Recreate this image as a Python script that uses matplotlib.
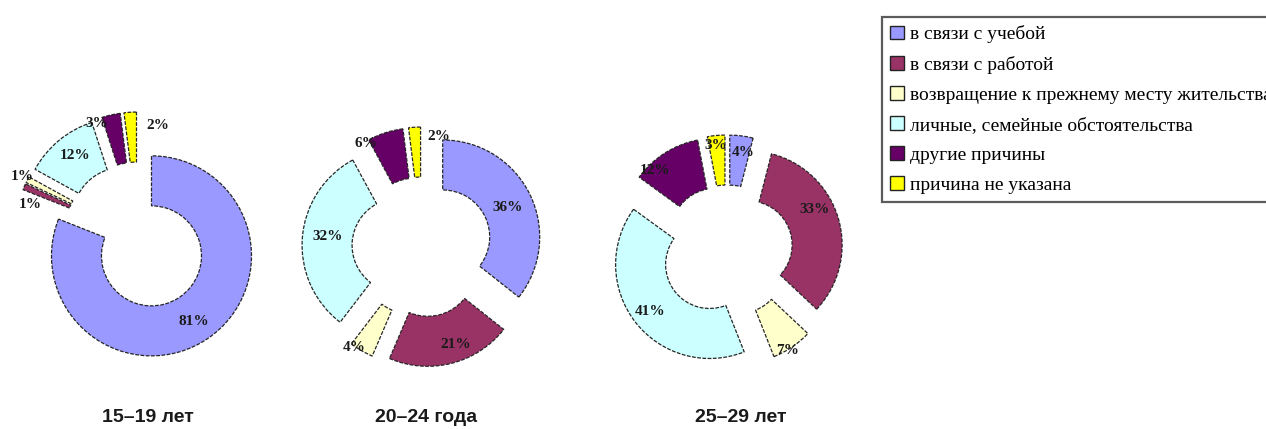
import matplotlib
matplotlib.use("Agg")
import matplotlib.pyplot as plt
from matplotlib.patches import Patch
import numpy as np

# Reasons for moving, by age group (percent of movers)
reasons = [
    "в связи с учебой",
    "в связи с работой",
    "возвращение к прежнему месту жительства",
    "личные, семейные обстоятельства",
    "другие причины",
    "причина не указана",
]
reason_colors = ["#9999FF", "#993366", "#FFFFCC", "#CCFFFF", "#660066", "#FFFF00"]

age_groups = ["15–19 лет", "20–24 года", "25–29 лет"]
share_15_19 = [81, 1, 1, 12, 3, 2]
share_20_24 = [36, 21, 4, 32, 6, 2]
share_25_29 = [4, 33, 7, 41, 12, 3]
shares = [share_15_19, share_20_24, share_25_29]

W, H = 1266, 429
fig = plt.figure(figsize=(W / 100, H / 100), dpi=100)
ax = fig.add_axes([0, 0, 1, 1])


def yy(y_img):
    """Convert a top-down pixel row to the axes' bottom-up coordinate."""
    return H - y_img


# Donut geometry per chart: centre (px, row), outer radius, ring width, explode distance
layout = [
    dict(center=(138, 236), radius=100, ring=50, explode=24, title_x=148),
    dict(center=(422, 247), radius=97, ring=50, explode=23, title_x=426),
    dict(center=(727, 251), radius=94, ring=50, explode=22, title_x=741),
]

# Extra label shifts (px right, px down) for the narrow slices
label_nudges = [
    [(0, 4), (-17, 8), (-28, -15), (0, -4), (-20, -16), (26, -12)],
    [(0, 2), (10, 5), (-20, 18), (0, -3), (-27, -13), (23, -16)],
    [(5, -8), (0, -16), (9, 24), (-5, 5), (-23, -4), (-3, -15)],
]

edge_style = dict(edgecolor="#262626", linewidth=0.9, linestyle=(0, (3, 1.2)))

for values, geo, nudges, title in zip(shares, layout, label_nudges, age_groups):
    cx, cy = geo["center"]
    wedges, _ = ax.pie(
        values,
        colors=reason_colors,
        explode=[geo["explode"]] * len(values),
        radius=geo["radius"],
        center=(cx, yy(cy)),
        startangle=90,
        counterclock=False,
        wedgeprops=dict(width=geo["ring"], **edge_style),
    )
    for w, v, (dx, dy) in zip(wedges, values, nudges):
        theta = np.deg2rad(0.5 * (w.theta1 + w.theta2))
        r_mid = w.r - w.width / 2
        x = w.center[0] + r_mid * np.cos(theta) + dx
        y = w.center[1] + r_mid * np.sin(theta) - dy
        ax.text(x, y, f"{v}%", ha="center", va="center",
                fontsize=11, fontweight="bold", family="Liberation Serif",
                color="#1a1a1a")
    ax.text(geo["title_x"], yy(418), title, ha="center", va="center",
            fontsize=14, fontweight="bold", family="Liberation Sans",
            color="#1a1a1a")

ax.set_xlim(0, W)
ax.set_ylim(0, H)
ax.set_aspect("equal")
ax.axis("off")

# Legend box runs past the right edge of the canvas
handles = [Patch(facecolor=c, edgecolor="#222222", linewidth=1.0) for c in reason_colors]
leg = fig.legend(
    handles, reasons,
    loc="upper left", bbox_to_anchor=(882 / W, 1 - 17 / H),
    borderaxespad=0, frameon=True, fancybox=False,
    prop=dict(family="Liberation Serif", size=14),
    handlelength=0.7, handleheight=0.7, handletextpad=0.3,
    labelspacing=0.64, borderpad=0.42,
)
leg.get_frame().set_edgecolor("#333333")
leg.get_frame().set_linewidth(1.6)

fig.savefig("out.png", dpi=100, facecolor="white")
